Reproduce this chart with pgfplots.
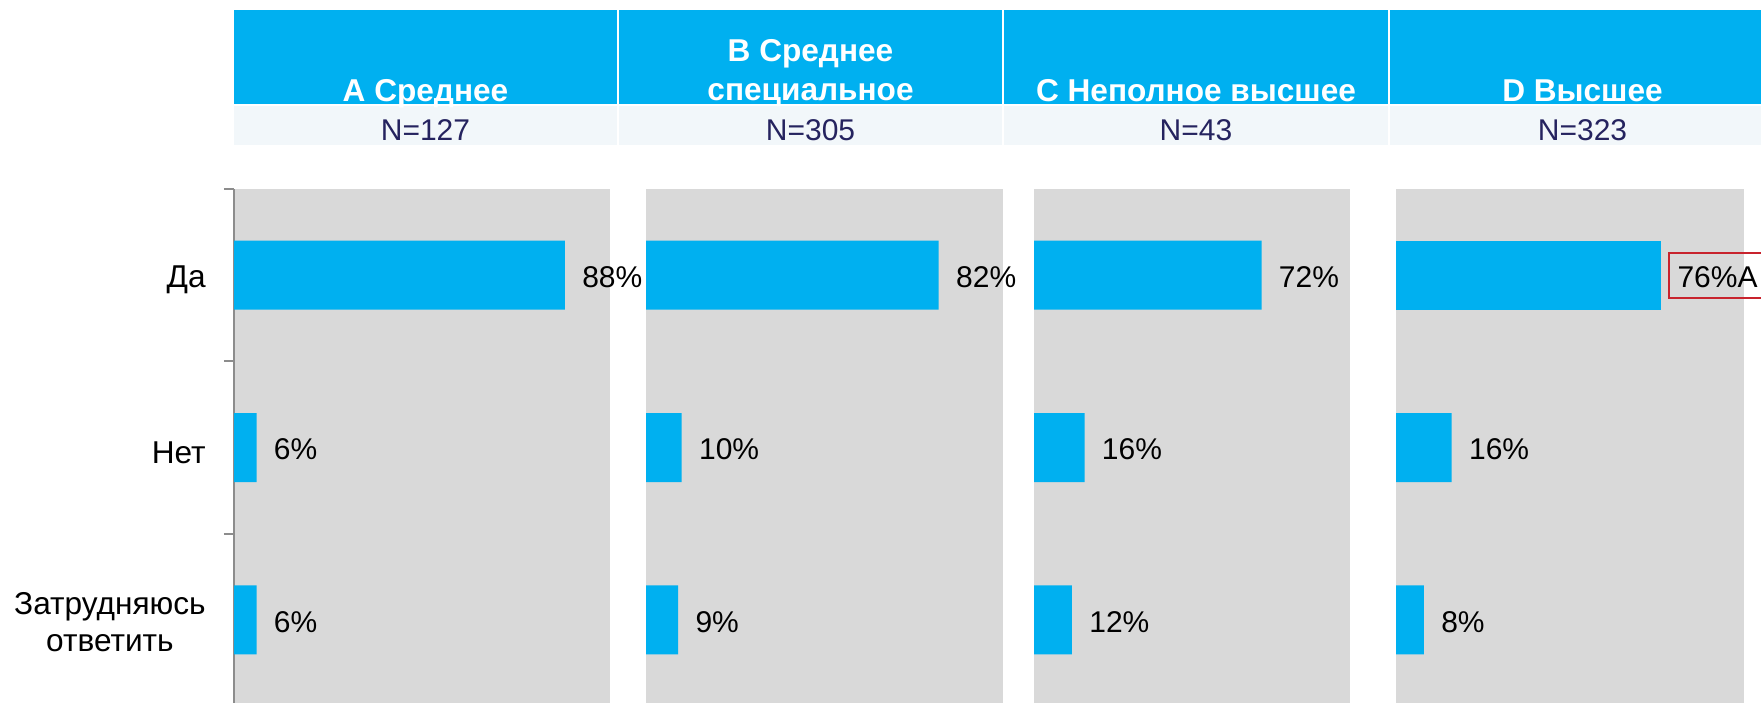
\documentclass[border=0pt]{standalone}
\usepackage{fontspec}
\setmainfont{Liberation Sans}
\usepackage{pgfplots}
\pgfplotsset{compat=1.18}
\definecolor{barblue}{RGB}{0,176,240}
\definecolor{panelgray}{RGB}{217,217,217}
\definecolor{nrow}{RGB}{242,247,250}
\definecolor{navy}{RGB}{37,35,95}
\definecolor{tickgray}{RGB}{140,140,140}
\definecolor{boxred}{RGB}{200,35,45}
\newcommand{\fs}{\fontsize{15}{18.5}\selectfont}
\newcommand{\fl}{\fontsize{15.8}{18.5}\selectfont}
\pgfplotsset{
  panel/.style={
    scale only axis, anchor=north west, height=258.5pt,
    xmin=0, xmax=100, ymin=-0.5, ymax=2.5, y dir=reverse,
    xbar, bar width=34.5pt,
    axis background/.style={fill=panelgray},
    axis x line=none, xtick=\empty,
    clip=false,
    /pgf/number format/assume math mode=true,
    point meta=x,
    nodes near coords={\pgfmathprintnumber{\pgfplotspointmeta}\%},
    nodes near coords style={font=\fs, text=black, anchor=west, inner sep=0pt,
      text height=12.3pt, text depth=0pt, xshift=8.5pt, fill=none, draw=none},
  },
  bars/.style={fill=barblue, draw=none, bar shift=0pt},
}
\begin{document}
\begin{tikzpicture}
\useasboundingbox (0,0) rectangle (880.5pt,-351pt);
\begin{scope}[x=0.5pt,y=-0.5pt]
  % header cells
  \fill[barblue] (234,10) rectangle (617,104);
  \fill[barblue] (619,10) rectangle (1002,104);
  \fill[barblue] (1004,10) rectangle (1388,104);
  \fill[barblue] (1390,10) rectangle (1775,104);
  \fill[nrow] (234,106) rectangle (617,145);
  \fill[nrow] (619,106) rectangle (1002,145);
  \fill[nrow] (1004,106) rectangle (1388,145);
  \fill[nrow] (1390,106) rectangle (1775,145);
  \begin{scope}[every node/.style={anchor=base, inner sep=0pt, font=\fl\bfseries, text=white}]
    \node at (425.5,101) {A Среднее};
    \node at (810.5,61) {B Среднее};
    \node at (810.5,100) {специальное};
    \node at (1196,101) {C Неполное высшее};
    \node at (1582.5,101) {D Высшее};
  \end{scope}
  \begin{scope}[every node/.style={anchor=base, inner sep=0pt, font=\fs, text=navy}]
    \node at (425.5,140) {N=127};
    \node at (810.5,140) {N=305};
    \node at (1196,140) {N=43};
    \node at (1582.5,140) {N=323};
  \end{scope}
\end{scope}

% Panel A
\begin{axis}[panel, at={(117pt,-94.5pt)}, width=188pt,
  axis y line*=left,
  y axis line style={draw=tickgray, line width=1pt},
  ytick={0,1,2},
  yticklabels={Да,Нет,{Затрудняюсь\\ответить\rule[-2.8pt]{0pt}{0pt}}},
  yticklabel style={font=\fl, align=center, anchor=east, inner sep=0pt, xshift=-14pt, yshift=-2.5pt},
  major tick length=0pt,
  minor ytick={-0.5,0.5,1.5,2.5},
  minor tick length=5pt, tick align=outside,
  minor tick style={draw=tickgray, line width=1pt},
]
\addplot[bars] coordinates {(88,0) (6,1) (6,2)};
\end{axis}

% Panel B
\begin{axis}[panel, at={(323pt,-94.5pt)}, width=178.5pt,
  axis y line=none, ytick=\empty]
\addplot[bars] coordinates {(82,0) (10,1) (9,2)};
\end{axis}

% Panel C
\begin{axis}[panel, at={(517pt,-94.5pt)}, width=158pt,
  axis y line=none, ytick=\empty]
\addplot[bars] coordinates {(72,0) (16,1) (12,2)};
\end{axis}

% Panel D
\begin{axis}[panel, at={(698pt,-94.5pt)}, width=174pt,
  axis y line=none, ytick=\empty]
\addplot[bars, nodes near coords={\pgfmathprintnumber{\pgfplotspointmeta}\%A},
  every node near coord/.append style={draw=boxred, line width=1pt, inner xsep=4.5pt, inner ysep=0pt, text height=12.3pt, text depth=0pt, minimum height=22.5pt, xshift=-5pt}]
  coordinates {(76,0)};
\addplot[bars] coordinates {(16,1) (8,2)};
\end{axis}
\end{tikzpicture}
\end{document}
